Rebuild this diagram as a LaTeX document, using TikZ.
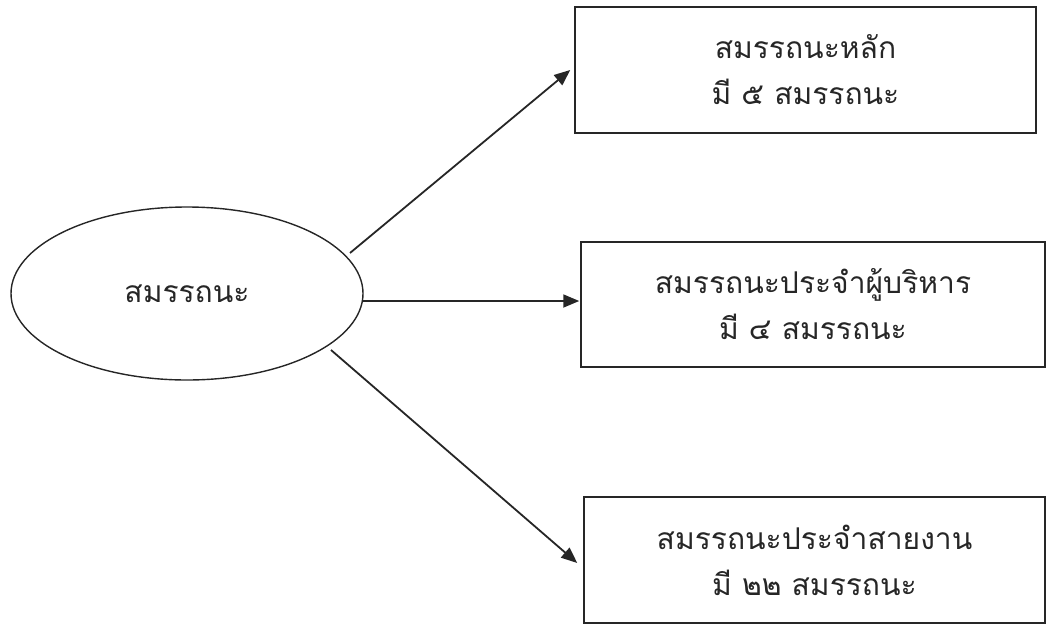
\documentclass[tikz,border=0pt]{standalone}
\usepackage{fontspec}
\newfontfamily\thaifont[Script=Thai]{Loma}
\usetikzlibrary{arrows.meta,shapes.geometric}
\begin{document}
\begin{tikzpicture}[x=1pt,y=-1pt,
  box/.style={draw=black!85, line width=1.5pt, rectangle, inner sep=0pt, align=center,
    font=\thaifont\fontsize{30}{46}\selectfont, text=black!85},
  oval/.style={draw=black!85, line width=1.4pt, ellipse, inner sep=0pt,
    font=\thaifont\fontsize{30}{46}\selectfont, text=black!85},
  arr/.style={-{Triangle[length=16pt,width=13pt]}, line width=1.8pt, draw=black!85}]
\useasboundingbox (0,0) rectangle (1051,624);
\node[oval, minimum width=352pt, minimum height=173pt] (c) at (187,293.5) {สมรรถนะ};
\node[box, minimum width=461pt, minimum height=126pt] (b1) at (805.5,70) {สมรรถนะหลัก\\มี ๕ สมรรถนะ};
\node[box, minimum width=464pt, minimum height=125pt] (b2) at (813,304.5) {สมรรถนะประจำผู้บริหาร\\มี ๔ สมรรถนะ};
\node[box, minimum width=461pt, minimum height=126pt] (b3) at (814.5,560) {สมรรถนะประจำสายงาน\\มี ๒๒ สมรรถนะ};
\coordinate (s1) at (350,253);
\coordinate (s2) at (363,301);
\coordinate (s3) at (331,350);
\draw[arr] (s1) -- ([xshift=-4pt,yshift=3pt]b1.west |- 0,73);
\draw[arr] (s2) -- ([xshift=-1pt]b2.west |- 0,301);
\draw[arr] (s3) -- ([xshift=-6pt]b3.west |- 0,563);
\end{tikzpicture}
\end{document}
